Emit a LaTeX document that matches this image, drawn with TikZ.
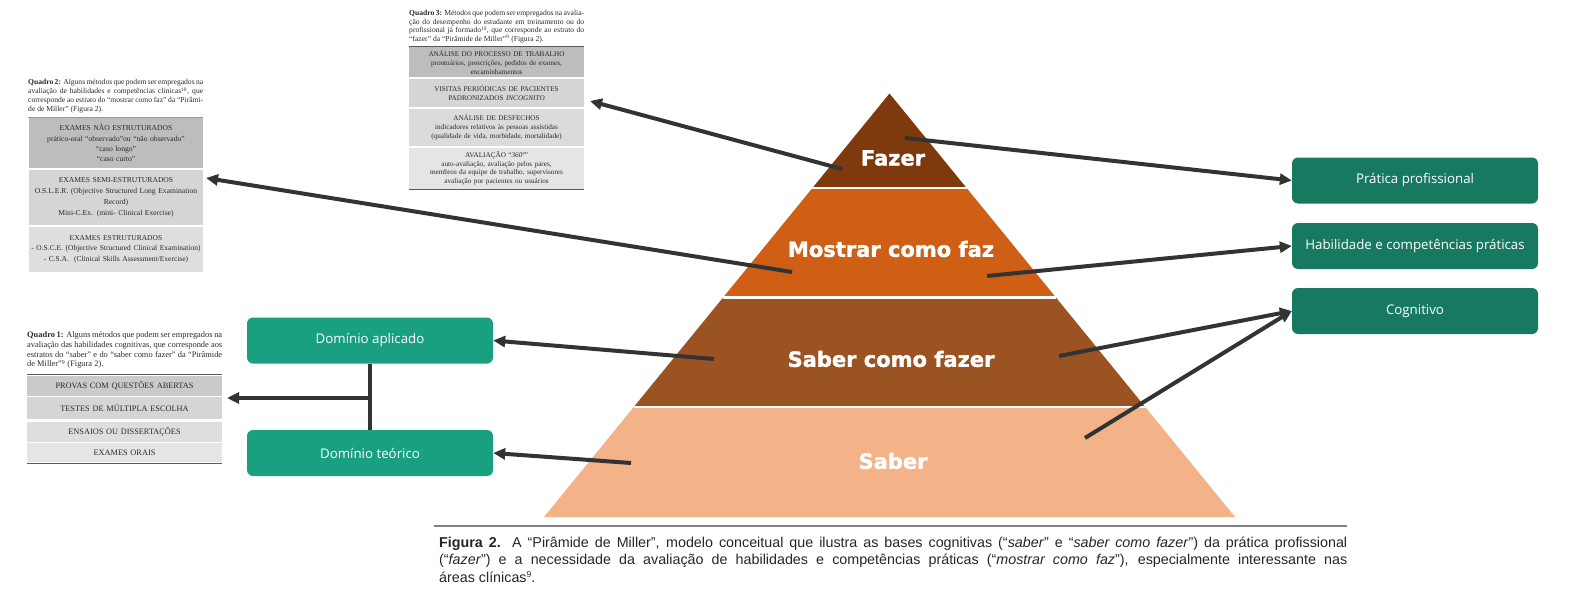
\documentclass[tikz,border=0pt]{standalone}
\usepackage{fontspec}
\setmainfont{Liberation Serif}
\newfontfamily\capfont{Liberation Sans}
\newfontfamily\boxfont{Open Sans}
\newfontfamily\pyrfont{DejaVu Sans}[BoldFeatures={FakeBold=1.5}]
\usetikzlibrary{arrows.meta,calc}
\tolerance=9999

\definecolor{fazerbrown}{HTML}{7E390C}
\definecolor{mostrarorange}{HTML}{CE5F14}
\definecolor{sabercomobrown}{HTML}{9B5421}
\definecolor{saberpeach}{HTML}{F3B287}
\definecolor{boxdark}{HTML}{177A60}
\definecolor{boxlight}{HTML}{18A080}
\definecolor{linegray}{HTML}{333333}
\definecolor{qtext}{HTML}{2A2A2A}
\definecolor{qgrayA}{HTML}{BDBDBD}
\definecolor{qgrayB}{HTML}{D5D5D5}
\definecolor{qgrayC}{HTML}{DEDEDE}
\definecolor{qgrayD}{HTML}{E5E5E5}

\begin{document}
\begin{tikzpicture}[x=1pt,y=-1pt,line join=round,
  layerlabel/.style={text=white, font=\pyrfont\bfseries\fontsize{21}{24}\selectfont},
  darkbox/.style={fill=boxdark, rounded corners=6pt, text=white,
    font=\boxfont\fontsize{13.3}{15}\selectfont,
    minimum width=246pt, minimum height=46pt, inner sep=0pt},
  lightbox/.style={darkbox, fill=boxlight},
  conn/.style={draw=linegray, line width=4pt, -{Triangle[length=12pt,width=11pt]}},
  qhead/.style={anchor=north west, inner sep=0pt, align=justify, text=qtext},
  qrow/.style={inner sep=0pt, align=center, text=qtext},
  qrule/.style={draw=black!65, line width=0.8pt}]
  % Page frame of the original figure.
  \useasboundingbox (0,0) rectangle (1576,599);

  % Pyramid outline and the points where its layers meet.
  \coordinate (apex) at (889.5,93.5);
  \coordinate (bl) at (544,517);
  \coordinate (br) at (1235,517);
  \coordinate (l1) at ($(apex)!0.223!(bl)$);
  \coordinate (r1) at ($(apex)!0.223!(br)$);
  \coordinate (l2) at ($(apex)!0.482!(bl)$);
  \coordinate (r2) at ($(apex)!0.482!(br)$);
  \coordinate (l3) at ($(apex)!0.740!(bl)$);
  \coordinate (r3) at ($(apex)!0.740!(br)$);

  % Layers, top to bottom.
  \fill[fazerbrown] (apex) -- (r1) -- (l1) -- cycle;
  \fill[mostrarorange] (l1) -- (r1) -- (r2) -- (l2) -- cycle;
  \fill[sabercomobrown] (l2) -- (r2) -- (r3) -- (l3) -- cycle;
  \fill[saberpeach] (l3) -- (r3) -- (br) -- (bl) -- cycle;
  \draw[white, line width=2.5pt] (l1) -- (r1) (l2) -- (r2) (l3) -- (r3);

  \node[layerlabel] (fazer) at (893,158) {Fazer};
  \node[layerlabel] (mostrar) at (891,249) {Mostrar como faz};
  \node[layerlabel] (sabercomo) at (891,359) {Saber como fazer};
  \node[layerlabel] (saber) at (893,461) {Saber};

  % Free ends of the connectors inside the layers.
  \coordinate (fz1) at (842,169);
  \coordinate (fz2) at (905,138);
  \coordinate (mo1) at (792,272);
  \coordinate (mo2) at (987,276);
  \coordinate (sc1) at (714,359);
  \coordinate (sc2) at (1059,356);
  \coordinate (sb1) at (1085,438);
  \coordinate (sb2) at (631,463);

  % Boxes on the right.
  \node[darkbox] (pratica) at (1415,180.5) {Prática profissional};
  \node[darkbox] (habil) at (1415,246) {Habilidade e competências práticas};
  \node[darkbox] (cogn) at (1415,311) {Cognitivo};

  % Boxes on the left.
  \node[lightbox] (aplic) at (370,340.5) {Domínio aplicado};
  \node[lightbox] (teor) at (370,453) {Domínio teórico};

  % Quadro 3
  \node[qhead, text width=175pt, font=\fontsize{7.6}{8.7}\selectfont] (q3head) at (409,10)
    {\textbf{Quadro 3:} Métodos que podem ser empregados na avalia-\linebreak
     ção do desempenho do estudante em treinamento ou do\linebreak
     profissional já formado\textsuperscript{10}, que corresponde ao estrato do\linebreak
     “fazer” da “Pirâmide de Miller”\textsuperscript{9} (Figura 2).};
  \draw[qrule] (409,46.5) -- (584,46.5);
  \node[qrow, fill=qgrayA, text width=175pt, minimum height=30pt,
    font=\fontsize{7.2}{8.6}\selectfont] (q3a) at (496.5,62.5)
    {ANÁLISE DO PROCESSO DE TRABALHO\\prontuários, prescrições, pedidos de exames,\\encaminhamentos};
  \node[qrow, fill=qgrayB, text width=175pt, minimum height=28pt,
    font=\fontsize{7.2}{8.8}\selectfont] (q3b) at (496.5,93)
    {VISITAS PERIÓDICAS DE PACIENTES\\PADRONIZADOS \textit{INCOGNITO}};
  \node[qrow, fill=qgrayB!85!white, text width=175pt, minimum height=37pt,
    font=\fontsize{7.2}{8.8}\selectfont] (q3c) at (496.5,127.25)
    {ANÁLISE DE DESFECHOS\\indicadores relativos às pessoas assistidas\\(qualidade de vida, morbidade, mortalidade)};
  \node[qrow, fill=qgrayD, text width=175pt, minimum height=41pt,
    font=\fontsize{7.2}{8.5}\selectfont] (q3d) at (496.5,168.25)
    {AVALIAÇÃO “\textit{360º}”\\auto-avaliação, avaliação pelos pares,\\membros da equipe de trabalho, supervisores\\avaliação por pacientes ou usuários};
  \draw[qrule] (409,189.5) -- (584,189.5);
  \coordinate (q3tip) at (590,101);

  % Quadro 2
  \node[qhead, text width=175pt, font=\fontsize{7.6}{9}\selectfont] (q2head) at (28,79.5)
    {\textbf{Quadro 2:} Alguns métodos que podem ser empregados na\linebreak
     avaliação de habilidades e competências clínicas\textsuperscript{10}, que\linebreak
     corresponde ao estrato do “mostrar como faz” da “Pirâmi-\linebreak
     de de Miller” (Figura 2).};
  \draw[qrule, draw=black!40] (28,117) -- (203,117);
  \node[qrow, fill=qgrayA, text width=174pt, minimum height=49.5pt,
    font=\fontsize{7.6}{10.3}\selectfont] (q2a) at (116,143.25)
    {EXAMES NÃO ESTRUTURADOS\\prático-oral “observado”ou “não observado”\\“caso longo”\\“caso curto”};
  \node[qrow, fill=qgrayB, text width=174pt, minimum height=55pt,
    font=\fontsize{7.6}{11}\selectfont] (q2b) at (116,197.5)
    {EXAMES SEMI-ESTRUTURADOS\\O.S.L.E.R. (Objective Structured Long Examination\\Record)\\Mini-C.Ex. (mini- Clinical Exercise)};
  \node[qrow, fill=qgrayC, text width=174pt, minimum height=44.5pt,
    font=\fontsize{7.5}{10.5}\selectfont] (q2c) at (116,249.25)
    {EXAMES ESTRUTURADOS\\- O.S.C.E. (Objective Structured Clinical Examination)\\- C.S.A.\ \ (Clinical Skills Assessment/Exercise)};
  \coordinate (q2tip) at (206,178);

  % Quadro 1
  \node[qhead, text width=195pt, font=\fontsize{8.4}{9.8}\selectfont] (q1head) at (27,331.5)
    {\textbf{Quadro 1:} Alguns métodos que podem ser empregados na\linebreak
     avaliação das habilidades cognitivas, que corresponde aos\linebreak
     estratos do “saber” e do “saber como fazer” da “Pirâmide\linebreak
     de Miller”\textsuperscript{9} (Figura 2).};
  \draw[qrule] (27,374) -- (222,374);
  \node[qrow, fill=qgrayB!95!black, text width=195pt, minimum height=20pt,
    font=\fontsize{8.3}{9}\selectfont] (q1a) at (124.5,386) {PROVAS COM QUESTÕES ABERTAS};
  \node[qrow, fill=qgrayB, text width=195pt, minimum height=22pt,
    font=\fontsize{8.3}{9}\selectfont] (q1b) at (124.5,408) {TESTES DE MÚLTIPLA ESCOLHA};
  \node[qrow, fill=qgrayC, text width=195pt, minimum height=20pt,
    font=\fontsize{8.3}{9}\selectfont] (q1c) at (124.5,432) {ENSAIOS OU DISSERTAÇÕES};
  \node[qrow, fill=qgrayD, text width=195pt, minimum height=19pt,
    font=\fontsize{8.3}{9}\selectfont] (q1d) at (124.5,452.5) {EXAMES ORAIS};
  \draw[qrule] (27,463.5) -- (222,463.5);
  \coordinate (q1tip) at (227,398);
  \coordinate (junc) at (370,398);

  % Connectors from the layers.
  \draw[conn] (fz1) -- (q3tip);
  \draw[conn] (fz2) -- (pratica.west);
  \draw[conn] (mo1) -- (q2tip);
  \draw[conn] (mo2) -- (habil.west);
  \draw[conn] (sc1) -- (aplic.east);
  \draw[conn] (sc2) -- (cogn.west);
  \draw[conn] (sb1) -- (cogn.west);
  \draw[conn] (sb2) -- (teor.east);

  % Both domains lead to Quadro 1.
  \draw[draw=linegray, line width=4pt] (aplic.south) -- (teor.north);
  \draw[conn] (junc) -- (q1tip);

  % Caption
  \draw[draw=black!50, line width=2pt] (434,525.5) -- (1347,525.5);
  \node[anchor=north west, inner sep=0pt, text width=908pt, align=justify,
    text=black!85, font=\capfont\fontsize{14.3}{17.5}\selectfont] (caption) at (439,536.5)
    {\textbf{Figura 2.} A “Pirâmide de Miller”, modelo conceitual que ilustra as bases cognitivas (“\textit{saber}” e “\textit{saber como fazer}”) da prática profissional\linebreak
     (“\textit{fazer}”) e a necessidade da avaliação de habilidades e competências práticas (“\textit{mostrar como faz}”), especialmente interessante nas\linebreak
     áreas clínicas\raisebox{5pt}{\fontsize{8.5}{9}\selectfont 9}.};
\end{tikzpicture}
\end{document}
